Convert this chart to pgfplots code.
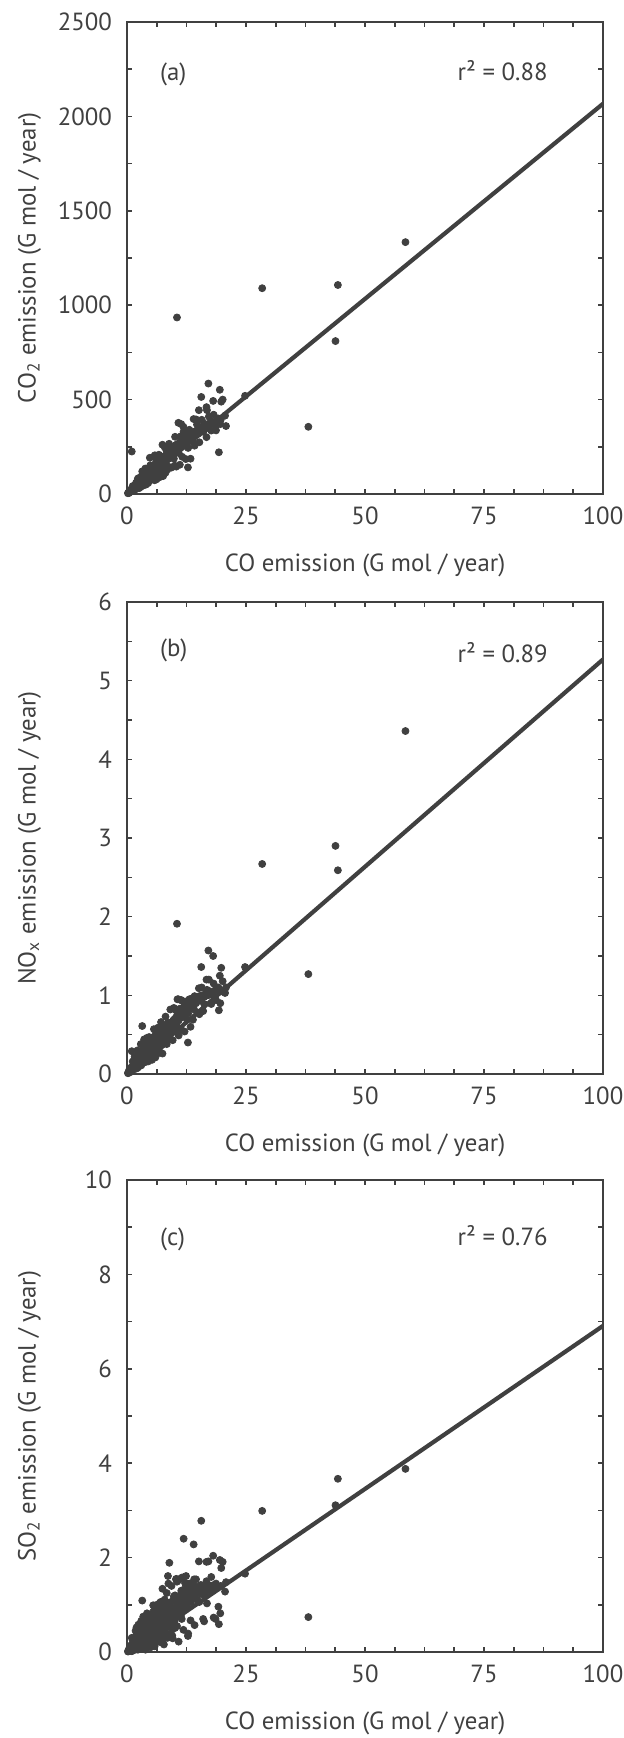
\documentclass[border=0pt]{standalone}
\usepackage{fontspec}
\setmainfont{PT Sans}
\usepackage{pgfplots}
\usepackage{pgfplotstable}
\pgfplotsset{compat=1.18}

\definecolor{ink}{RGB}{64,64,64}

% co: CO emission, co2/nox/so2: the other emissions (G mol / year)
\pgfplotstableread{
co   co2   nox   so2
58.5 1334 4.36 3.88
44.3 1107 2.59 3.67
43.8 810  2.90 3.11
28.4 1090 2.67 2.99
38.1 356  1.27 0.74
24.8 520  1.36 1.66
10.5 935  1.91 1.49
1.0  225  0.29 0.30
3.2  120  0.61 1.09
4.8  192  0.34 0.55
19.3 221  0.81 0.59
12.8 141  0.40 0.34
17.1 585  1.57 1.92
18.1 493  1.50 2.04
15.6 514  1.36 2.78
19.5 552  1.25 1.95
20.1 500  1.18 1.91
19.8 489  1.35 1.78
15.1 444  1.09 1.92
16.7 460  1.20 1.91
16.8 444  1.07 1.03
17.6 385  1.02 1.40
20.6 415  1.03 1.28
18.6 360  1.07 0.70
20.8 360  1.10 1.48
14.0 397  0.88 2.28
14.5 395  0.90 1.54
10.8 377  0.95 1.52
11.4 370  0.94 1.20
11.9 330  0.85 2.40
8.9  240  0.62 1.89
19.6 370  0.90 0.82
16.0 330  0.80 0.70
12.4 300  0.80 1.61
8.6  250  0.58 1.61
8.7  230  0.55 1.45
12.2 290  0.75 1.46
10.3 260  0.81 1.54
14.1 330  0.82 1.54
0.2  4    0.01 0.01
0.3  7    0.02 0.03
0.4  9    0.03 0.02
0.5  11   0.03 0.06
0.5  13   0.02 0.04
0.6  12   0.04 0.05
0.7  16   0.04 0.08
0.8  18   0.05 0.04
0.8  15   0.06 0.10
0.9  22   0.05 0.07
1.0  20   0.07 0.12
1.1  26   0.06 0.05
1.2  24   0.09 0.15
1.2  30   0.07 0.09
1.3  28   0.08 0.20
1.4  33   0.10 0.11
1.5  30   0.09 0.26
1.5  38   0.11 0.14
1.6  35   0.12 0.08
1.7  42   0.10 0.22
1.8  38   0.14 0.17
1.8  45   0.12 0.31
1.9  40   0.11 0.12
2.0  48   0.15 0.24
2.0  42   0.13 0.35
2.1  52   0.12 0.18
2.2  46   0.16 0.28
2.3  55   0.14 0.40
2.3  50   0.18 0.14
2.4  58   0.15 0.33
2.5  52   0.17 0.22
2.5  62   0.20 0.45
2.5  50   0.15 0.08
2.6  56   0.13 0.30
2.7  64   0.19 0.19
2.8  60   0.16 0.38
2.8  70   0.22 0.50
2.9  66   0.18 0.26
3.0  72   0.21 0.42
3.0  62   0.17 0.55
3.1  76   0.24 0.21
3.2  68   0.20 0.36
3.3  80   0.22 0.48
3.3  72   0.26 0.60
3.4  85   0.19 0.30
3.5  78   0.25 0.44
3.5  92   0.28 0.57
3.5  70   0.20 0.10
3.6  82   0.23 0.25
3.7  88   0.21 0.65
3.8  96   0.27 0.38
3.8  84   0.30 0.52
3.9  100  0.24 0.46
4.0  90   0.26 0.70
4.0  105  0.32 0.33
4.1  96   0.22 0.58
4.2  110  0.29 0.42
4.3  100  0.34 0.62
4.3  118  0.27 0.28
4.4  106  0.31 0.50
4.5  122  0.25 0.72
4.5  98   0.36 0.40
4.5  95   0.28 0.12
4.6  112  0.30 0.55
4.7  126  0.33 0.35
4.8  108  0.28 0.66
4.8  132  0.38 0.48
4.9  118  0.31 0.60
5.0  125  0.35 0.30
5.0  140  0.29 0.78
5.1  112  0.40 0.52
5.2  135  0.33 0.44
5.3  122  0.37 0.68
5.3  145  0.31 0.38
5.4  130  0.42 0.58
5.5  150  0.35 0.48
5.5  118  0.30 0.85
5.5  80   0.30 0.18
5.6  140  0.39 0.34
5.7  128  0.44 0.62
5.8  155  0.36 0.52
5.8  145  0.33 0.75
5.9  135  0.41 0.42
6.0  160  0.38 0.66
6.0  125  0.46 0.26
6.1  148  0.35 0.56
6.2  170  0.43 0.80
6.3  140  0.40 0.46
6.4  158  0.48 0.62
6.4  175  0.37 0.36
6.5  150  0.42 0.72
6.5  140  0.38 0.22
6.6  165  0.45 0.50
6.7  140  0.39 0.90
6.8  180  0.50 0.58
6.9  160  0.44 0.42
6.9  90   0.35 0.40
7.0  172  0.47 0.76
7.0  150  0.41 0.55
7.1  185  0.52 0.64
7.2  165  0.46 0.48
7.3  190  0.49 0.85
7.4  158  0.43 0.38
7.5  178  0.53 0.70
7.5  160  0.45 0.25
7.6  195  0.48 0.58
7.7  170  0.55 0.95
7.8  188  0.50 0.46
7.9  165  0.45 0.66
8.0  200  0.56 0.78
8.1  182  0.52 0.52
8.2  175  0.58 1.00
8.3  205  0.54 0.62
8.4  190  0.49 0.40
8.5  215  0.60 0.88
8.5  130  0.45 0.30
8.6  185  0.56 0.70
8.8  210  0.62 0.55
9.0  198  0.58 1.05
9.1  225  0.64 0.78
9.3  205  0.60 0.62
9.4  230  0.66 0.92
9.5  215  0.56 0.48
9.5  200  0.55 0.35
9.7  240  0.68 1.10
9.8  220  0.63 0.80
10.0 235  0.70 0.66
10.0 150  0.55 0.60
10.1 255  0.65 1.20
10.3 228  0.72 0.90
10.5 248  0.68 0.55
10.6 265  0.75 1.00
10.8 240  0.70 0.78
11.0 258  0.78 1.15
11.2 275  0.73 0.85
11.4 250  0.80 1.30
11.5 268  0.76 0.70
11.7 285  0.82 1.05
11.9 262  0.78 0.90
12.0 290  0.84 1.25
12.2 275  0.80 1.00
12.4 300  0.86 1.18
12.6 280  0.82 0.95
12.8 305  0.88 1.30
13.0 290  0.85 1.10
13.2 312  0.90 1.22
13.4 295  0.87 1.05
13.6 318  0.92 1.35
13.8 300  0.88 1.15
14.0 325  0.94 1.28
14.2 310  0.90 1.40
14.4 330  0.95 1.20
14.6 315  0.92 1.32
14.8 340  0.97 1.10
15.0 320  0.94 1.38
15.2 345  0.99 1.25
15.5 330  0.96 1.42
15.8 350  1.00 1.30
16.2 340  0.98 1.36
16.5 365  1.02 1.20
17.0 350  1.00 1.38
17.5 370  1.05 1.30
18.2 375  1.00 1.42
18.8 390  1.08 1.35
0.3  6    0.02 0.02
0.4  5    0.04 0.06
0.5  14   0.02 0.02
0.6  10   0.05 0.07
0.7  22   0.04 0.04
0.8  18   0.08 0.14
0.9  14   0.06 0.09
1.0  25   0.04 0.02
1.1  21   0.09 0.15
1.2  42   0.07 0.08
1.3  16   0.08 0.21
1.4  31   0.13 0.06
1.5  30   0.06 0.17
1.6  21   0.12 0.13
1.7  46   0.09 0.26
1.8  31   0.18 0.05
1.9  59   0.12 0.23
2.0  46   0.07 0.10
2.1  32   0.18 0.38
2.2  55   0.12 0.22
2.3  44   0.14 0.05
2.4  84   0.22 0.34
2.5  31   0.10 0.18
2.6  57   0.20 0.42
2.7  54   0.14 0.11
2.8  36   0.28 0.31
2.9  78   0.19 0.23
3.0  51   0.11 0.45
3.1  96   0.26 0.09
3.25 75   0.18 0.39
3.4  51   0.20 0.17
3.55 89   0.32 0.64
3.7  70   0.15 0.37
3.85 135  0.29 0.08
4.0  50   0.20 0.56
4.15 91   0.42 0.29
4.3  86   0.28 0.69
4.45 58   0.16 0.18
4.6  124  0.39 0.51
4.75 81   0.26 0.38
4.9  152  0.29 0.74
5.05 116  0.45 0.15
5.2  78   0.21 0.62
5.35 134  0.40 0.27
5.5  105  0.28 0.99
5.65 198  0.57 0.57
5.8  73   0.38 0.12
5.95 131  0.21 0.83
6.1  122  0.52 0.43
6.25 81   0.34 1.00
6.4  173  0.38 0.26
6.55 111  0.59 0.72
6.7  208  0.27 0.54
6.85 158  0.51 1.03
7.0  105  0.35 0.21
7.15 179  0.66 0.86
7.3  139  0.47 0.37
7.45 261  0.26 1.34
7.6  95   0.62 0.76
7.75 171  0.43 0.16
7.9  158  0.47 1.11
8.1  113  0.73 0.57
8.35 225  0.38 1.25
8.6  146  0.65 0.34
8.85 266  0.44 0.97
9.1  209  0.82 0.73
9.35 140  0.61 1.40
9.6  240  0.43 0.29
9.85 187  0.84 1.18
10.1 303  0.56 0.51
10.35 145 0.62 1.55
10.6 233  0.95 1.06
10.85 217 0.49 0.22
11.1 155  0.83 1.55
11.35 306 0.57 0.79
11.6 197  0.93 1.58
11.85 356 0.77 0.47
12.1 278  0.54 1.33
12.35 185 0.92 0.99
12.6 315  0.69 1.45
12.85 244 0.77 0.39
13.1 340  0.95 1.45
13.35 187 0.60 0.67
13.6 299  0.96 1.40
13.85 277 0.69 1.39
14.2 256  0.99 0.57
14.7 368  0.96 1.32
15.2 274  0.76 1.06
15.7 393  1.10 1.41
16.2 373  0.89 0.65
16.7 301  1.00 1.50
17.2 410  1.20 1.38
17.7 336  0.89 1.59
18.2 420  1.15 0.73
18.7 337  0.94 1.45
19.2 400  1.10 0.96
19.7 394  1.05 1.40
1.05 24   0.08 0.02
1.35 20   0.07 0.19
1.65 41   0.17 0.12
1.95 37   0.13 0.31
2.25 79   0.08 0.09
2.55 32   0.22 0.28
2.85 63   0.16 0.23
3.15 63   0.19 0.47
3.45 45   0.31 0.10
3.75 101  0.15 0.45
4.05 69   0.30 0.20
4.35 135  0.22 0.78
4.65 107  0.47 0.47
4.95 74   0.32 0.10
5.25 131  0.18 0.74
5.55 105  0.47 0.39
5.85 205  0.32 0.94
6.15 77   0.37 0.25
6.45 142  0.58 0.71
6.75 135  0.27 0.54
7.05 92   0.53 1.06
7.35 198  0.37 0.22
7.65 130  0.62 0.92
7.95 246  0.52 0.40
1.6  35   0.22 0.30
2.2  60   0.30 0.15
2.9  40   0.38 0.60
3.6  110  0.44 0.28
4.2  75   0.46 0.82
1.2  18   0.16 0.25
3.9  120  0.40 0.05
1.8  30   0.10 0.45
2.4  50   0.12 0.58
3.0  65   0.20 0.66
3.4  75   0.22 0.75
2.0  44   0.15 0.52
2.15 47   0.14 0.20
2.65 60   0.17 0.29
3.05 58   0.23 0.33
3.35 78   0.21 0.40
3.65 74   0.27 0.32
3.95 92   0.28 0.41
4.25 95   0.25 0.36
4.55 104  0.33 0.46
4.85 100  0.30 0.44
5.15 118  0.34 0.50
5.45 128  0.36 0.55
5.75 120  0.40 0.47
6.05 138  0.42 0.60
6.35 132  0.39 0.52
6.65 150  0.46 0.64
6.95 145  0.43 0.57
7.25 168  0.50 0.70
7.55 160  0.47 0.62
7.85 176  0.52 0.74
8.15 170  0.55 0.66
8.45 195  0.53 0.80
8.75 188  0.59 0.72
9.05 212  0.57 0.86
9.35 200  0.63 0.76
9.65 225  0.61 0.92
9.95 215  0.66 0.82
10.25 240 0.64 0.96
10.55 232 0.70 0.88
10.85 255 0.68 1.02
11.15 245 0.74 0.94
11.45 270 0.72 1.08
11.75 262 0.77 1.00
12.05 282 0.75 1.12
12.5 290  0.80 1.08
13.0 305  0.83 1.20
13.5 300  0.86 1.15
14.3 320  0.90 1.25
15.0 340  0.93 1.30
15.8 335  0.97 1.22
16.6 355  1.00 1.32
}\emis

\pgfplotsset{
  panel/.style={
    scale only axis, width=238pt, height=236pt,
    xmin=0, xmax=100, xtick={0,25,50,75,100}, minor x tick num=3,
    minor y tick num=1,
    tick align=inside, xtick pos=both, ytick pos=both,
    major tick length=2.6pt, minor tick length=2.6pt,
    axis line style={ink, line width=0.8pt},
    every tick/.style={ink, line width=0.8pt},
    every minor tick/.style={ink, line width=0.8pt},
    xlabel={CO emission (G mol / year)},
    xlabel style={at={(axis description cs:0.5,-0.152)}, anchor=center},
    ylabel style={at={(axis description cs:-0.205,0.5)}, anchor=center},
    label style={font=\fontsize{12.4}{14}\selectfont, text=ink},
    tick label style={font=\fontsize{12.4}{14}\selectfont, text=ink},
    xticklabel style={yshift=-3pt},
    yticklabel style={xshift=-4pt},
    /pgf/number format/assume math mode=true,
    /pgf/number format/1000 sep={},
    scaled ticks=false,
    clip=true,
  },
  dots/.style={only marks, mark=*, mark size=1.75pt, ink, mark options={draw=ink, fill=ink}},
  fit/.style={no marks, ink, line width=2.1pt},
}
\tikzset{tag/.style={font=\fontsize{12.4}{14}\selectfont, text=ink}}

\begin{document}
\begin{tikzpicture}
\path[use as bounding box] (0,0) rectangle (312pt,-869pt);

% (a) CO2 vs CO
\begin{axis}[panel, at={(63.5pt,-247pt)}, anchor=south west,
    ymin=0, ymax=2500, ytick={0,500,1000,1500,2000,2500},
    ylabel={CO\textsubscript{2} emission (G mol / year)}]
  \addplot[fit] coordinates {(0,0) (100,2067)};
  \addplot[dots] table[x=co, y=co2] {\emis};
  \node[tag, anchor=base west] at (axis description cs:0.055,0.877) {(a)};
  \node[tag, anchor=base west] at (axis description cs:0.68,0.877) {r² = 0.88};
\end{axis}

% (b) NOx vs CO
\begin{axis}[panel, at={(63.5pt,-537pt)}, anchor=south west,
    ymin=0, ymax=6, ytick={0,1,2,3,4,5,6},
    ylabel={NO\textsubscript{x} emission (G mol / year)}]
  \addplot[fit] coordinates {(0,0) (100,5.27)};
  \addplot[dots] table[x=co, y=nox] {\emis};
  \node[tag, anchor=base west] at (axis description cs:0.055,0.885) {(b)};
  \node[tag, anchor=base west] at (axis description cs:0.68,0.872) {r² = 0.89};
\end{axis}

% (c) SO2 vs CO
\begin{axis}[panel, at={(63.5pt,-826pt)}, anchor=south west,
    ymin=0, ymax=10, ytick={0,2,4,6,8,10},
    ylabel={SO\textsubscript{2} emission (G mol / year)}]
  \addplot[fit] coordinates {(0,0) (100,6.91)};
  \addplot[dots] table[x=co, y=so2] {\emis};
  \node[tag, anchor=base west] at (axis description cs:0.055,0.862) {(c)};
  \node[tag, anchor=base west] at (axis description cs:0.68,0.862) {r² = 0.76};
\end{axis}
\end{tikzpicture}
\end{document}
